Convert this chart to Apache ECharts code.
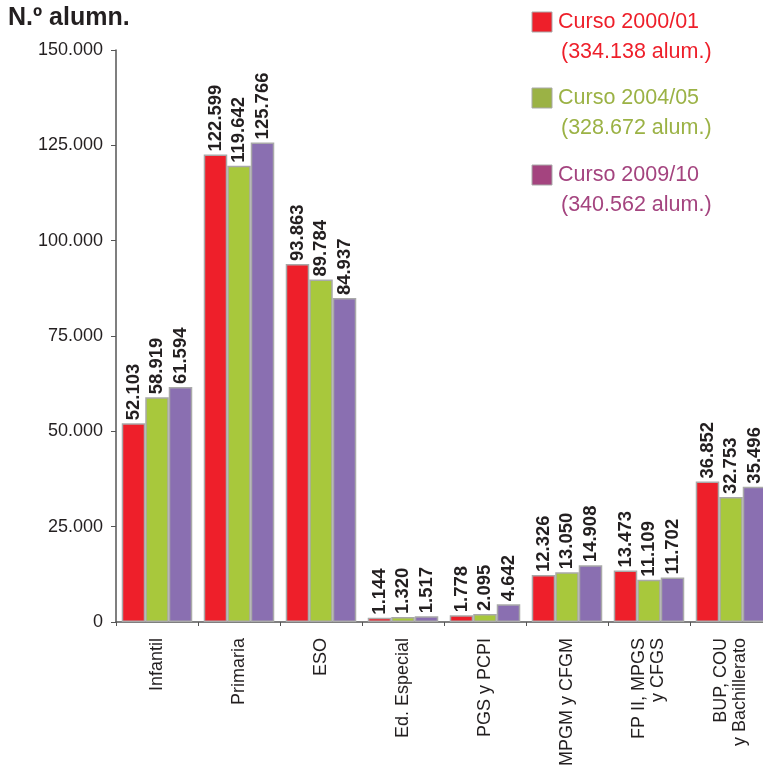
<!DOCTYPE html>
<html>
<head>
<meta charset="utf-8">
<script src="https://cdn.jsdelivr.net/npm/echarts@6/dist/echarts.min.js"></script>
<style>
html,body{margin:0;padding:0;background:#fff;}
#c{width:763px;height:774px;}
</style>
</head>
<body>
<div id="c"></div>
<script>
const categories = ["Infantil", "Primaria", "ESO", "Ed. Especial", "PGS y PCPI", "MPGM y CFGM", "FP II, MPGS\ny CFGS", "BUP, COU\ny Bachillerato"];
const curso2000 = [52103, 122599, 93863, 1144, 1778, 12326, 13473, 36852];
const curso2004 = [58919, 119642, 89784, 1320, 2095, 13050, 11109, 32753];
const curso2009 = [61594, 125766, 84937, 1517, 4642, 14908, 11702, 35496];
const seriesNames = ["Curso 2000/01", "Curso 2004/05", "Curso 2009/10"];
const legendTotals = ["(334.138 alum.)", "(328.672 alum.)", "(340.562 alum.)"];
const yTicks = [0, 25000, 50000, 75000, 100000, 125000, 150000];

const fmt = v => String(v).replace(/\B(?=(\d{3})+(?!\d))/g, '.');
const barColors = ['#ee1f2a', '#a8c83c', '#8a6fb1'];
const legendSq = ['#ee1f2a', '#9bb245', '#a4447f'];
const legendTxt = ['#ee1f2a', '#9bb245', '#a4447f'];
const font = '"Liberation Sans", Arial, sans-serif';

const chart = echarts.init(document.getElementById('c'));
const mk = (name, data, i) => ({
  name, type: 'bar', data,
  barGap: '0%', barCategoryGap: '14%',
  itemStyle: {color: barColors[i], borderColor: '#a9a9a9', borderWidth: 1.5},
  label: {
    show: true, position: 'top', rotate: 90, align: 'left', verticalAlign: 'middle',
    distance: 3, formatter: p => fmt(p.value),
    fontFamily: font, fontWeight: 'bold', fontSize: 18.5, color: '#231f20'
  }
});
const gfx = [{type: 'text', left: 8, top: 6, style: {text: 'N.º alumn.', font: 'bold 25px ' + font, fill: '#231f20'}}];
const ly = [12, 88, 165];
for (let i = 0; i < 3; i++) {
  gfx.push({type: 'rect', shape: {x: 532, y: ly[i], width: 20, height: 20}, style: {fill: legendSq[i], stroke: '#a9a9a9', lineWidth: 1}});
  gfx.push({type: 'text', x: 558, y: ly[i] - 1, style: {text: seriesNames[i], font: '21.5px ' + font, fill: legendTxt[i]}});
  gfx.push({type: 'text', x: 561, y: ly[i] + 29, style: {text: legendTotals[i], font: '21.5px ' + font, fill: legendTxt[i]}});
}
chart.setOption({
  animation: false,
  grid: {left: 116, top: 50, width: 656, height: 572, containLabel: false, outerBoundsMode: 'none'},
  xAxis: {
    type: 'category', data: categories,
    axisLine: {lineStyle: {color: '#555', width: 1.5}},
    axisTick: {show: true, length: 4, lineStyle: {color: '#555'}},
    axisLabel: {rotate: 90, margin: 16, interval: 0, fontFamily: font, fontSize: 18, color: '#231f20', lineHeight: 19}
  },
  yAxis: {
    type: 'value', min: yTicks[0], max: yTicks[yTicks.length - 1], interval: 25000,
    axisLine: {show: true, lineStyle: {color: '#555', width: 1.5}},
    axisTick: {show: true, length: 5, lineStyle: {color: '#555'}},
    splitLine: {show: false},
    axisLabel: {formatter: v => fmt(v), fontFamily: font, fontSize: 18, color: '#231f20', margin: 13}
  },
  series: [mk(seriesNames[0], curso2000, 0), mk(seriesNames[1], curso2004, 1), mk(seriesNames[2], curso2009, 2)],
  graphic: gfx
});
</script>
</body>
</html>
